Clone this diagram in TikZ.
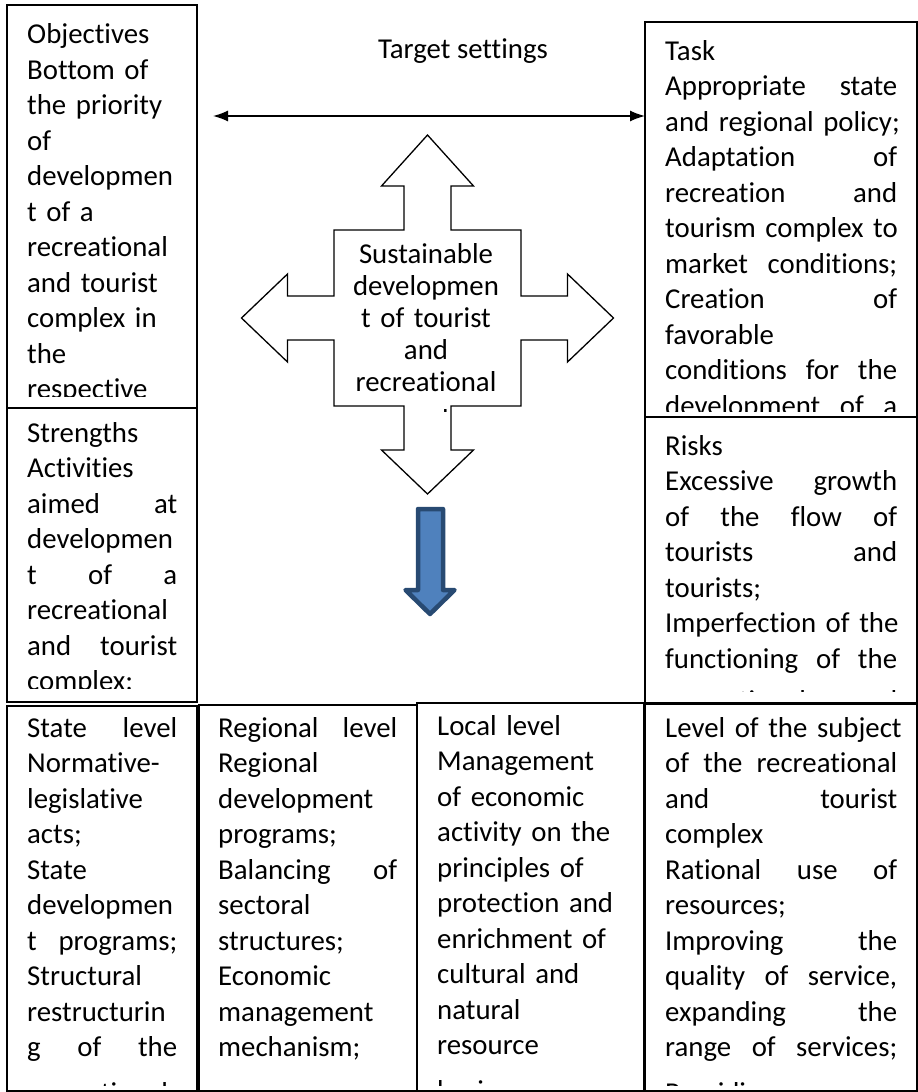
\documentclass[tikz,border=0pt]{standalone}
\usepackage{fontspec}
\setmainfont{Carlito}[Ligatures=NoCommon, Contextuals=NoAlternate]
\usetikzlibrary{arrows.meta}
\definecolor{arrowfill}{HTML}{4F81BD}
\definecolor{arrowline}{HTML}{284A72}
\hyphenpenalty=10000
\exhyphenpenalty=10000
\tikzset{
  box/.style={draw, line width=1.3pt, anchor=north west, inner sep=0pt, outer sep=0pt},
  boxtext/.style={anchor=base west, inner sep=0pt, align=left, font=\fontsize{28.8pt}{35.5pt}\selectfont},
  crosstext/.style={anchor=base, inner sep=0pt, align=center, text width=152pt, font=\fontsize{28.8pt}{32pt}\selectfont},
  tsarrow/.style={{Latex[length=15pt,width=11pt]}-{Latex[length=15pt,width=11pt]}, line width=1.4pt},
  bluearrow/.style={fill=arrowfill, draw=arrowline, line width=4.5pt, line join=round},
}
\begin{document}
\begin{tikzpicture}[x=1pt,y=-1pt]
  \useasboundingbox (0,0) rectangle (918,1092);
  % upper left: objectives
  \node[box, minimum width=190pt, minimum height=403pt] (obj) at (7,5) {};
  \begin{scope}
    \clip (7,5) rectangle (197,396);
    \node[boxtext, text width=150pt] (objtxt) at (27,43.5) {Objectives\\
      Bottom of\\
      the priority\\
      of\\
      developmen\\
      t of a\\
      recreational\\
      and tourist\\
      complex in\\
      the\\
      respective};
  \end{scope}
  % lower left: strengths
  \node[box, minimum width=190pt, minimum height=294pt] (strg) at (7,408) {};
  \begin{scope}
    \clip (7,408) rectangle (197,688);
    \node[boxtext, text width=150pt] (strgtxt) at (27,442) {Strengths\\
      Activities\\
      aimed\hfill at\\
      developmen\\
      t\hfill of\hfill a\\
      recreational\\
      and\hfill tourist\\
      complex;};
  \end{scope}
  % upper right: task
  \node[box, minimum width=272pt, minimum height=395pt] (task) at (645,22) {};
  \begin{scope}
    \clip (645,22) rectangle (917,411);
    \node[boxtext, text width=232pt] (tasktxt) at (665,60) {Task\\
      Appropriate\hfill state\\
      and~regional~policy;\\
      Adaptation\hfill of\\
      recreation\hfill and\\
      tourism~complex~to\\
      market\hfill conditions;\\
      Creation\hfill of\\
      favorable\\
      conditions\hfill for\hfill the\\
      development\hfill of\hfill a};
  \end{scope}
  % lower right: risks
  \node[box, minimum width=272pt, minimum height=286pt] (risk) at (645,417) {};
  \begin{scope}
    \clip (645,417) rectangle (917,691);
    \node[boxtext, text width=232pt] (risktxt) at (665,455) {Risks\\
      Excessive\hfill growth\\
      of\hfill the\hfill flow\hfill of\\
      tourists\hfill and\\
      tourists;\\
      Imperfection~of~the\\
      functioning\hfill of\hfill the\\[7pt]
      recreational\hfill and};
  \end{scope}
  % target settings
  \node[inner sep=0pt, anchor=base, font=\fontsize{28.8pt}{35.5pt}\selectfont] (tset) at (463,58) {Target settings};
  \coordinate (tsl) at (213,116);
  \draw[tsarrow] (tsl) -- (tsl -| task.west);
  % four-way arrow
  \draw[line width=1.3pt, shift={(427.5,318)}] (0,-183) -- (46,-132) -- (23.5,-132) -- (23.5,-88)
    -- (93.5,-88) -- (93.5,-22) -- (140,-22) -- (140,-44) -- (186,0) -- (140,44) -- (140,22)
    -- (93.5,22) -- (93.5,88) -- (23.5,88) -- (23.5,132) -- (46,132) -- (0,176) -- (-46,132)
    -- (-23.5,132) -- (-23.5,88) -- (-93.5,88) -- (-93.5,22) -- (-140,22) -- (-140,44)
    -- (-186,0) -- (-140,-44) -- (-140,-22) -- (-93.5,-22) -- (-93.5,-88) -- (-23.5,-88)
    -- (-23.5,-132) -- (-46,-132) -- cycle;
  \begin{scope}
    \clip (334,231) rectangle (521,411);
    \node[crosstext] (sdtxt) at (426,263) {Sustainable\\
      developmen\\
      t of tourist\\
      and\\
      recreational\\[6pt]
      complex};
  \end{scope}
  % blue arrow
  \draw[bluearrow] (418,509) -- (443,509) -- (443,590) -- (454.5,590) -- (430,614)
    -- (405.5,590) -- (418,590) -- cycle;
  % bottom row: levels
  \node[box, minimum width=190pt, minimum height=385pt] (state) at (7,706) {};
  \begin{scope}
    \clip (7,706) rectangle (197,1085);
    \node[boxtext, text width=150pt] (statetxt) at (27,737) {State\hfill level\\
      Normative-\\
      legislative\\
      acts;\\
      State\\
      developmen\\
      t\hfill programs;\\
      Structural\\
      restructurin\\
      g\hfill of\hfill the\\[10pt]
      recreational};
  \end{scope}
  \node[box, minimum width=218pt, minimum height=386pt] (region) at (199,705) {};
  \begin{scope}
    \clip (199,705) rectangle (417,1085);
    \node[boxtext, text width=179pt] (regiontxt) at (218,737) {Regional\hfill level\\
      Regional\\
      development\\
      programs;\\
      Balancing\hfill of\\
      sectoral\\
      structures;\\
      Economic\\
      management\\
      mechanism;};
  \end{scope}
  \node[box, minimum width=227pt, minimum height=388pt] (local) at (417,703) {};
  \begin{scope}
    \clip (417,703) rectangle (644,1085);
    \node[boxtext, text width=186pt] (localtxt) at (437,735) {Local level\\
      Management\\
      of economic\\
      activity on the\\
      principles of\\
      protection and\\
      enrichment of\\
      cultural and\\
      natural\\
      resource\\[10pt]
      basis};
  \end{scope}
  \node[box, minimum width=272pt, minimum height=387pt] (subj) at (645,704) {};
  \begin{scope}
    \clip (645,704) rectangle (917,1085);
    \node[boxtext, text width=232pt] (subjtxt) at (665,737) {Level~of~the~subject\\
      of\hfill the\hfill recreational\\
      and\hfill tourist\\
      complex\\
      Rational\hfill use\hfill of\\
      resources;\\
      Improving\hfill the\\
      quality\hfill of\hfill service,\\
      expanding\hfill the\\
      range\hfill of\hfill services;\\[10pt]
      Providing};
  \end{scope}
\end{tikzpicture}
\end{document}
